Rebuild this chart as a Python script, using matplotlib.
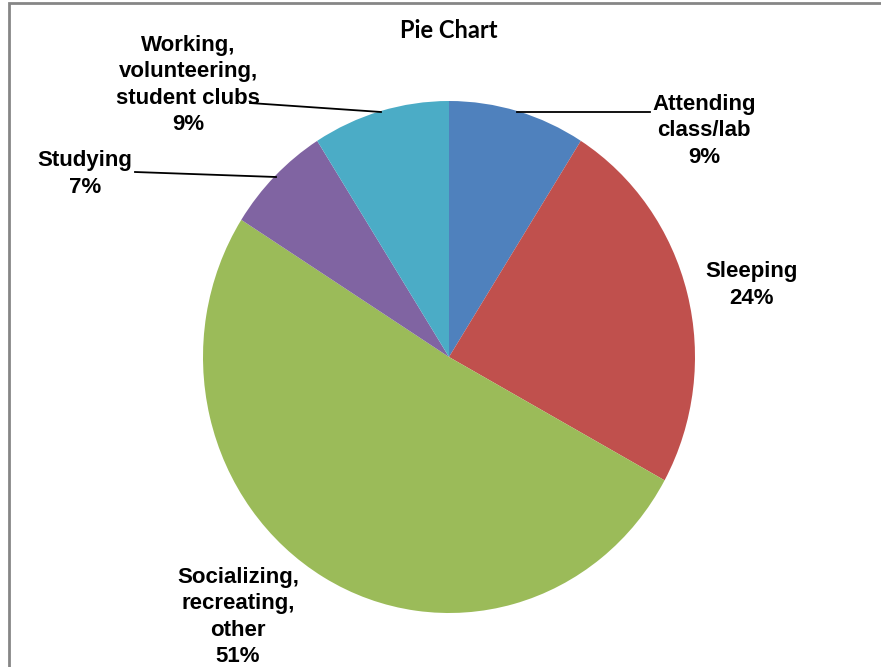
import matplotlib.pyplot as plt
from matplotlib.patches import Rectangle

# данні
labels = ['Attending\nclass/lab', 'Sleeping', 'Socializing,\nrecreating,\nother',
          'Studying', 'Working,\nvolunteering,\nstudent clubs']
values = [9, 24, 51, 7, 9]
colors = ['#4F81BD', '#C0504D', '#9BBB59', '#8064A2', '#4BACC6']

W, H = 881, 667
cx, cy = 449, 357     # центр круга в пікселях
rx, ry = 246, 256     # радіуси в пікселях


def px(x, y):
    return (x - cx) / rx, (cy - y) / ry


fig = plt.figure(figsize=(W / 100, H / 100), dpi=100)
ax = fig.add_axes([0, 0, 1, 1])
ax.pie(values, colors=colors, startangle=90, counterclock=False,
       radius=1, center=(0, 0), wedgeprops={'linewidth': 0})
ax.set_aspect('auto')
ax.set_xlim(-cx / rx, (W - cx) / rx)
ax.set_ylim(-(H - cy) / ry, cy / ry)
ax.axis('off')

# підписи
label_pos = [(704, 131), (752, 285), (238, 617), (85, 174), (188, 85)]
for lab, v, (x, y) in zip(labels, values, label_pos):
    tx, ty = px(x, y)
    ax.text(tx, ty, lab + '\n' + str(v) + '%', ha='center', va='center',
            fontsize=16, fontweight='bold', family='Liberation Sans',
            linespacing=1.33)

# лінії-виноски
leaders = [((517, 112), (650, 112)), ((135, 172), (276, 177)), ((250, 103), (381, 112))]
for (x1, y1), (x2, y2) in leaders:
    a = px(x1, y1)
    b = px(x2, y2)
    ax.plot([a[0], b[0]], [a[1], b[1]], color='black', lw=1.3)

ax.text(*px(449, 31), 'Pie Chart', ha='center', va='center', fontsize=17,
        fontweight='bold', family='Lato')

fig.patches.append(Rectangle((9 / W, -0.1), 1.2, 1 - 3 / H + 0.1, transform=fig.transFigure,
                             fill=False, edgecolor='#868686', lw=2))

plt.savefig('out.png', dpi=100)
